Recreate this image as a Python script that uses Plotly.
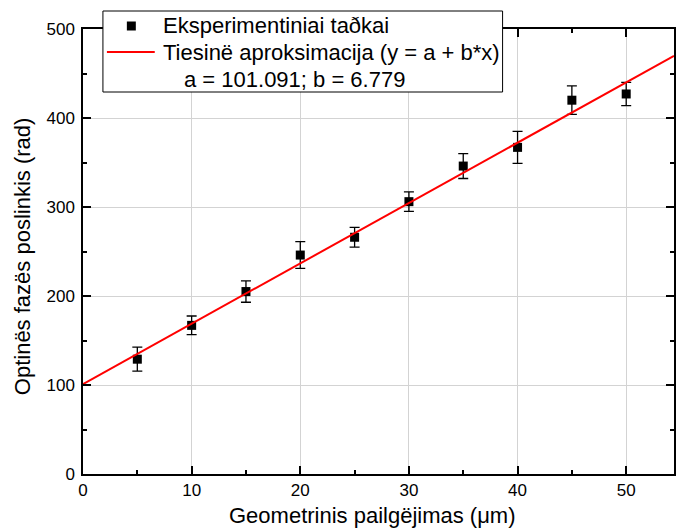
import plotly.graph_objects as go

x_vals = [5, 10, 15, 20, 25, 30, 35, 40, 45, 50]
y_vals = [129, 167, 205, 246, 266, 306, 346, 367, 420, 427]
y_err = [13.5, 10.5, 12, 15, 11, 11, 14, 18, 16, 13]

fit_a = 101.091
fit_b = 6.779
x_range = [0, 54.4]
fit_x = x_range
fit_y = [fit_a + fit_b * v for v in fit_x]

legend_labels = [
    "Eksperimentiniai taðkai",
    "Tiesinë aproksimacija (y = a + b*x)",
    "a = 101.091; b = 6.779",
]
x_title = "Geometrinis pailgëjimas (μm)"
y_title = "Optinës fazës poslinkis (rad)"

FONT = "Liberation Sans, Arial, sans-serif"

# plot area in pixels
L, R, T, B = 83, 676, 29, 474


def px(xp):
    return (xp - L) / (R - L)


def py(yp):
    return (B - yp) / (B - T)


fig = go.Figure()
fig.add_trace(go.Scatter(
    x=x_vals, y=y_vals, mode="markers", name=legend_labels[0],
    marker=dict(symbol="square", size=9, color="black"),
    error_y=dict(type="data", array=y_err, color="black", thickness=1.3, width=5),
    showlegend=False,
))
fig.add_trace(go.Scatter(
    x=fit_x, y=fit_y, mode="lines", name=legend_labels[1],
    line=dict(color="red", width=2), showlegend=False,
))

axis_common = dict(
    showline=True, linecolor="black", linewidth=1.5, mirror="ticks",
    ticks="inside", ticklen=8, tickwidth=1.5, tickcolor="black",
    showgrid=True, gridcolor="#d3d3d3", gridwidth=1, zeroline=False,
    tickfont=dict(family=FONT, size=17, color="black"),
)

fig.update_xaxes(
    range=x_range, dtick=10, tick0=0,
    minor=dict(dtick=5, ticks="inside", ticklen=4, tickcolor="black", showgrid=False),
    **axis_common,
)
fig.update_yaxes(
    range=[0, 500], dtick=100, tick0=0, ticklabelstandoff=3,
    minor=dict(dtick=50, ticks="inside", ticklen=4, tickcolor="black", showgrid=False),
    **axis_common,
)

# hand-built legend box (to match the original's compact layout)
shapes = [
    dict(type="rect", xref="paper", yref="paper",
         x0=px(103), x1=px(504), y0=py(92), y1=py(11),
         fillcolor="white", line=dict(color="black", width=1), layer="above"),
    dict(type="rect", xref="paper", yref="paper",
         x0=px(127), x1=px(136), y0=py(30.5), y1=py(21.5),
         fillcolor="black", line=dict(width=0), layer="above"),
    dict(type="line", xref="paper", yref="paper",
         x0=px(107), x1=px(155), y0=py(52), y1=py(52),
         line=dict(color="red", width=2), layer="above"),
]
legend_font = dict(family=FONT, size=22, color="black")
title_font = dict(family=FONT, size=22, color="black")
annotations = [
    dict(text=legend_labels[0], x=px(161), y=py(26), xref="paper", yref="paper",
         xanchor="left", yanchor="middle", showarrow=False, font=legend_font),
    dict(text=legend_labels[1], x=px(161), y=py(52.5), xref="paper", yref="paper",
         xanchor="left", yanchor="middle", showarrow=False, font=legend_font),
    dict(text=legend_labels[2], x=px(182), y=py(79), xref="paper", yref="paper",
         xanchor="left", yanchor="middle", showarrow=False, font=legend_font),
    dict(text=x_title, x=px(373), y=py(515), xref="paper", yref="paper",
         xanchor="center", yanchor="middle", showarrow=False, font=title_font),
    dict(text=y_title, x=px(22), y=py(256), xref="paper", yref="paper",
         xanchor="center", yanchor="middle", textangle=-90, showarrow=False,
         font=title_font),
]

fig.update_layout(
    width=676, height=530,
    margin=dict(l=L, r=676 - R, t=T, b=530 - B),
    plot_bgcolor="white", paper_bgcolor="white",
    font=dict(family=FONT, color="black"),
    shapes=shapes, annotations=annotations,
    showlegend=False,
)

fig.write_html("out.html")
